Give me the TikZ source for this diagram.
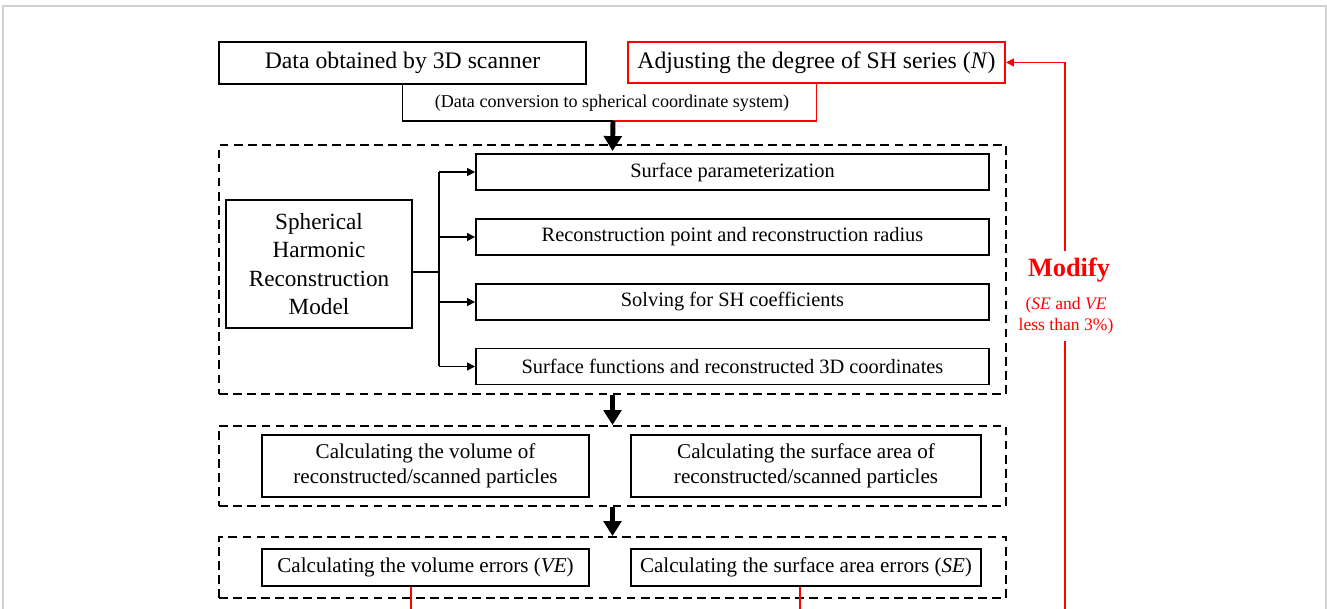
\documentclass[tikz,border=0pt]{standalone}
\usepackage{fontspec}
\setmainfont{Liberation Serif}
\usetikzlibrary{arrows.meta}
\begin{document}
\begin{tikzpicture}[x=0.2mm,y=-0.2mm,line join=miter,>={Triangle[length=4.5pt,width=4.5pt]},thick]
			\tikzset{box/.style={draw,line width=1.1pt,inner sep=0pt,align=center},
				dbox/.style={draw,line width=1.1pt,dash pattern=on 5pt off 3pt,inner sep=0pt},
				redline/.style={red,line width=1pt},
				bigarrow/.style={line width=2.8pt,-{Triangle[length=8.5pt,width=10pt]}},
				big/.style={font=\fontsize{13.5}{16.2}\selectfont},
				mid/.style={font=\fontsize{11.6}{14}\selectfont},
				calc/.style={font=\fontsize{12}{14.2}\selectfont}}
			\useasboundingbox (0,0) rectangle (1327,609);
			\draw[gray!35,line width=0.8pt] (3,609) |- (1326,6) -- (1326,609);
			% top row
			\node[box,big,minimum width=73.4mm,minimum height=8.4mm] (scan) at (402.5,63) {Data obtained by 3D scanner};
			\node[box,big,draw=red,minimum width=75.4mm,minimum height=8.2mm] (deg) at (816.5,62.5) {Adjusting the degree of SH series (\textit{N})};
			\coordinate (jn) at (613,121);
			\node[font=\fontsize{10.3}{12}\selectfont] (conv) at (612,103) {(Data conversion to spherical coordinate system)};
			\draw[line width=1pt] (scan.south) |- (jn);
			\draw[redline] (deg.south) |- (jn);
			% dashed groups
			\node[dbox,minimum width=157.4mm,minimum height=49.8mm] (grp1) at (612.5,269.5) {};
			\node[dbox,minimum width=157.4mm,minimum height=16mm] (grp2) at (612.5,466) {};
			\node[dbox,minimum width=157.4mm,minimum height=12.2mm] (grp3) at (612.5,567.5) {};
			\draw[bigarrow] (jn) -- ([yshift=-1.4mm]grp1.north);
			\draw[bigarrow] (grp1.south) -- (grp2.north);
			\draw[bigarrow] (grp2.south) -- (grp3.north);
			% reconstruction model
			\node[box,font=\fontsize{13.2}{16.2}\selectfont,minimum width=37.2mm,minimum height=25.6mm] (shrm) at (319,264) {Spherical\\Harmonic\\Reconstruction\\Model};
			\foreach \y/\nm/\txt in {172/sp/Surface parameterization,237/rp/Reconstruction point and reconstruction radius,302/sc/Solving for SH coefficients,366.5/sf/Surface functions and reconstructed 3D coordinates}
			\node[box,mid,minimum width=102.6mm,minimum height=7.2mm] (\nm) at (732.5,\y) {\txt};
			\coordinate (br) at (439,272);
			\draw[line width=0.9pt] (shrm.east |- br) -- (br);
			\draw[line width=0.9pt] (br |- sp) -- (br |- sf);
			\foreach \nm in {sp,rp,sc,sf}
			\draw[line width=0.9pt,->] (br |- \nm) -- (\nm.west);
			% calculation boxes
			\node[box,calc,minimum width=65.4mm,minimum height=12.4mm] (vol) at (425.5,466) {Calculating the volume of\\reconstructed/scanned particles};
			\node[box,calc,minimum width=70mm,minimum height=12.4mm] (area) at (806,466) {Calculating the surface area of\\reconstructed/scanned particles};
			\node[box,calc,minimum width=65.4mm,minimum height=7.4mm] (ve) at (425.5,567.5) {Calculating the volume errors (\textit{VE})};
			\node[box,calc,minimum width=70mm,minimum height=7.4mm] (se) at (806,567.5) {Calculating the surface area errors (\textit{SE})};
			% feedback loop
			\coordinate (vb) at (411,609);
			\coordinate (sb) at (800,609);
			\coordinate (fb) at (1065,609);
			\draw[redline] (ve.south -| vb) -- (vb);
			\draw[redline] (se.south -| sb) -- (sb);
			\node[text=red,font=\fontsize{15}{18}\selectfont\bfseries] (mod) at (1069,270) {Modify};
			\node[text=red,font=\fontsize{10}{12}\selectfont,align=center] (lt) at (1066,316) {(\textit{SE} and \textit{VE}\\less than 3\%)};
			\draw[redline] (fb) -- (fb |- lt.south);
			\draw[redline,->] (fb |- mod.north) |- (deg.east);
\end{tikzpicture}
\end{document}
